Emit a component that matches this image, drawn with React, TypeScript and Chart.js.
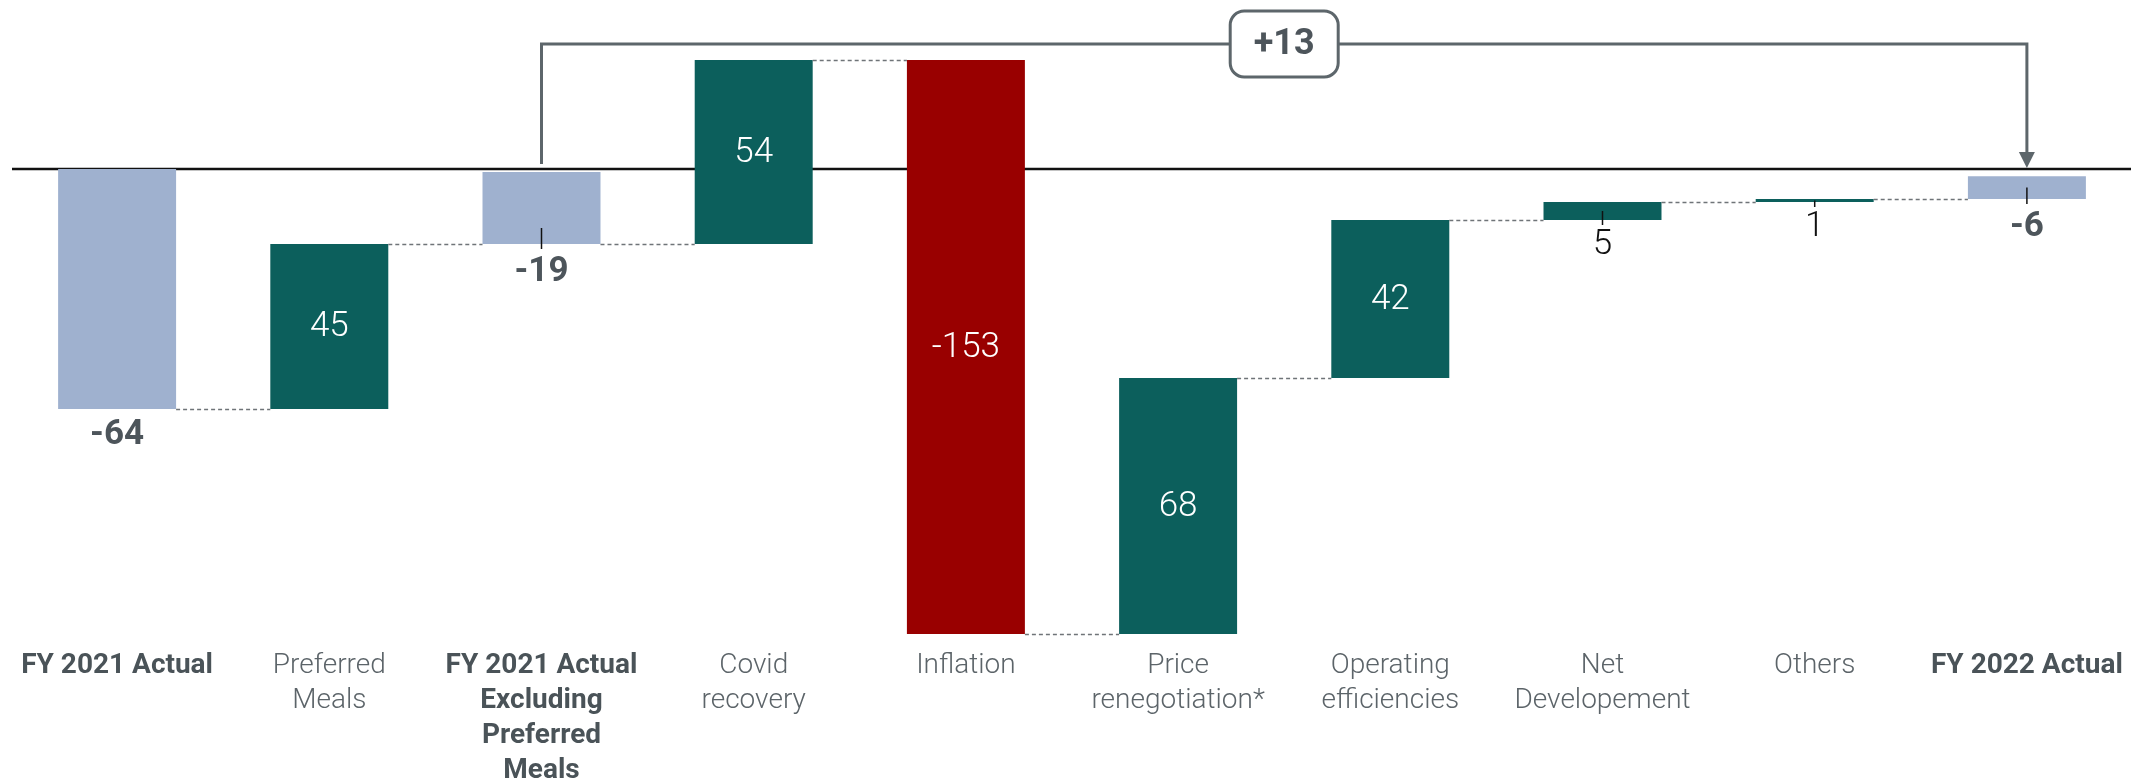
import React, { useEffect, useRef } from 'react';
import { Chart, registerables } from 'chart.js';

Chart.register(...registerables);

const categories: string[][] = [
  ['FY 2021 Actual'],
  ['Preferred', 'Meals'],
  ['FY 2021 Actual', 'Excluding', 'Preferred', 'Meals'],
  ['Covid', 'recovery'],
  ['Inflation'],
  ['Price', 'renegotiation*'],
  ['Operating', 'efficiencies'],
  ['Net', 'Developement'],
  ['Others'],
  ['FY 2022 Actual'],
];
const barKinds = ['total', 'delta', 'total', 'delta', 'delta', 'delta', 'delta', 'delta', 'delta', 'total'];
const valueLabels = [-64, 45, -19, 54, -153, 68, 42, 5, 1, -6];
const barStarts = [0, -64, -20, -20, 29.1, -124, -55.7, -13.6, -8.8, -8.0];
const barEnds = [-64, -20, -0.8, 29.1, -124, -55.7, -13.6, -8.8, -8.0, -1.9];
const bracketFrom = 2;
const bracketTo = 9;
const bracketLabel = '+13';
const yMin = -125.6;
const yMax = 45.07;

const BLUE = '#9fb1cf';
const TEAL = '#0c5f5c';
const RED = '#990000';
const DARK = '#4d555b';
const LINE = '#5d666b';
const FONT = 'Roboto';

function barColor(i: number) {
  if (barKinds[i] === 'total') return BLUE;
  return valueLabels[i] >= 0 ? TEAL : RED;
}

const overlay = {
  id: 'overlay',
  beforeDatasetsDraw(chart: any) {
    const { ctx, scales } = chart;
    const y0 = scales.y.getPixelForValue(0);
    ctx.save();
    ctx.strokeStyle = '#111';
    ctx.lineWidth = 2.5;
    ctx.beginPath();
    ctx.moveTo(12, y0);
    ctx.lineTo(2131, y0);
    ctx.stroke();
    ctx.restore();
  },
  afterDatasetsDraw(chart: any) {
    const { ctx, scales } = chart;
    const y = scales.y;
    const meta = chart.getDatasetMeta(0);
    const els = meta.data.map((e: any) => e.getProps(['x', 'y', 'base', 'width'], true));
    ctx.save();
    // connectors
    ctx.strokeStyle = '#6f7478';
    ctx.lineWidth = 1.5;
    ctx.setLineDash([4, 3]);
    for (let i = 0; i < els.length - 1; i++) {
      const a = [barStarts[i], barEnds[i]];
      const b = [barStarts[i + 1], barEnds[i + 1]];
      let best = Infinity;
      let level = 0;
      for (const va of a) for (const vb of b) {
        const d = Math.abs(va - vb);
        if (d < best) { best = d; level = (va + vb) / 2; }
      }
      const py = Math.round(y.getPixelForValue(level)) + 0.5;
      ctx.beginPath();
      ctx.moveTo(els[i].x + els[i].width / 2, py);
      ctx.lineTo(els[i + 1].x - els[i + 1].width / 2, py);
      ctx.stroke();
    }
    ctx.setLineDash([]);
    // value labels
    ctx.textAlign = 'center';
    ctx.textBaseline = 'middle';
    els.forEach((el: any, i: number) => {
      const top = Math.min(el.y, el.base);
      const bottom = Math.max(el.y, el.base);
      const h = bottom - top;
      const mid = (top + bottom) / 2;
      const v = valueLabels[i];
      const txt = String(v);
      const isTotal = barKinds[i] === 'total';
      if (!isTotal && h > 60) {
        ctx.fillStyle = '#ffffff';
        ctx.font = `300 35px ${FONT}`;
        ctx.fillText(txt, el.x, mid + 1);
        return;
      }
      let labelTop = bottom;
      if (h < 100) {
        const t0 = Math.max(mid, bottom - 16);
        const t1 = bottom + 5;
        ctx.strokeStyle = '#111';
        ctx.lineWidth = 1.5;
        ctx.beginPath();
        ctx.moveTo(el.x, t0);
        ctx.lineTo(el.x, t1);
        ctx.stroke();
        labelTop = t1;
      } else {
        labelTop = bottom + 3;
      }
      if (isTotal) {
        ctx.fillStyle = DARK;
        ctx.font = `bold 35px ${FONT}`;
        ctx.fillText(txt, el.x, labelTop + 23);
      } else {
        ctx.fillStyle = '#111';
        ctx.font = `300 35px ${FONT}`;
        ctx.fillText(txt, el.x, labelTop + 20);
      }
    });
    // bracket
    const y0 = y.getPixelForValue(0);
    const xa = els[bracketFrom].x;
    const xb = els[bracketTo].x;
    const yl = y0 - 125;
    ctx.strokeStyle = LINE;
    ctx.fillStyle = LINE;
    ctx.lineWidth = 3;
    ctx.beginPath();
    ctx.moveTo(xa, y0 - 5);
    ctx.lineTo(xa, yl);
    ctx.lineTo(xb, yl);
    ctx.lineTo(xb, y0 - 14);
    ctx.stroke();
    ctx.beginPath();
    ctx.moveTo(xb - 8, y0 - 17);
    ctx.lineTo(xb + 8, y0 - 17);
    ctx.lineTo(xb, y0 - 1);
    ctx.closePath();
    ctx.fill();
    // label box
    const cx = (xa + xb) / 2;
    const bw = 108;
    const bh = 66;
    const bx = cx - bw / 2;
    const by = yl - bh / 2;
    ctx.beginPath();
    ctx.roundRect(bx, by, bw, bh, 14);
    ctx.fillStyle = '#ffffff';
    ctx.fill();
    ctx.lineWidth = 3;
    ctx.strokeStyle = LINE;
    ctx.stroke();
    ctx.fillStyle = DARK;
    ctx.font = `bold 36px ${FONT}`;
    ctx.fillText(bracketLabel, cx, yl + 1);
    ctx.restore();
  },
};

export default function App() {
  const ref = useRef<HTMLCanvasElement | null>(null);
  useEffect(() => {
    if (!ref.current) return;
    const chart = new Chart(ref.current, {
      type: 'bar',
      data: {
        labels: categories as any,
        datasets: [
          {
            data: barStarts.map((s, i) => [s, barEnds[i]]) as any,
            backgroundColor: barStarts.map((_, i) => barColor(i)),
            borderWidth: 0,
            barPercentage: 0.556,
            categoryPercentage: 1,
          },
        ],
      },
      options: {
        responsive: false,
        animation: false,
        layout: { padding: { left: 11, right: 14, top: 0, bottom: 0 } },
        plugins: { legend: { display: false }, tooltip: { enabled: false } },
        scales: {
          y: { display: false, min: yMin, max: yMax },
          x: {
            grid: { display: false, drawTicks: false },
            border: { display: false },
            afterFit: (scale: any) => { scale.height = 142; },
            ticks: {
              padding: 8,
              maxRotation: 0,
              autoSkip: false,
              font: (c: any) => ({
                family: FONT,
                size: 28,
                weight: barKinds[c.index] === 'total' ? 'bold' : '300',
                lineHeight: 1.26,
              }),
              color: (c: any) => (barKinds[c.index] === 'total' ? '#4a5358' : '#5c6469'),
            },
          },
        },
      },
      plugins: [overlay],
    });
    return () => chart.destroy();
  }, []);
  return (
    <div style={{ position: 'absolute', left: 0, top: 0, width: 2147, height: 782 }}>
      <canvas ref={ref} width={2147} height={782} style={{ display: 'block' }} />
    </div>
  );
}
